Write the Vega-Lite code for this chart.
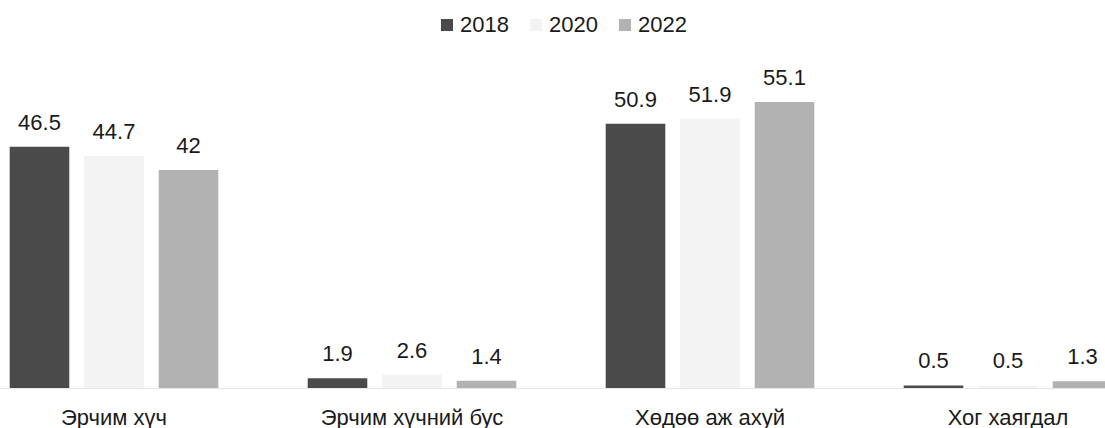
{
  "$schema": "https://vega.github.io/schema/vega-lite/v6.json",
  "width": 1192,
  "height": 328,
  "autosize": {"type": "none"},
  "padding": {"left": -35, "top": 60, "right": 0, "bottom": 40},
  "background": "white",
  "config": {
    "font": "Liberation Sans",
    "view": {"stroke": null}
  },
  "data": {
    "values": [
      {"sector": "Эрчим хүч", "year": "2018", "value": 46.5},
      {"sector": "Эрчим хүч", "year": "2020", "value": 44.7},
      {"sector": "Эрчим хүч", "year": "2022", "value": 42},
      {"sector": "Эрчим хүчний бус", "year": "2018", "value": 1.9},
      {"sector": "Эрчим хүчний бус", "year": "2020", "value": 2.6},
      {"sector": "Эрчим хүчний бус", "year": "2022", "value": 1.4},
      {"sector": "Хөдөө аж ахуй", "year": "2018", "value": 50.9},
      {"sector": "Хөдөө аж ахуй", "year": "2020", "value": 51.9},
      {"sector": "Хөдөө аж ахуй", "year": "2022", "value": 55.1},
      {"sector": "Хог хаягдал", "year": "2018", "value": 0.5},
      {"sector": "Хог хаягдал", "year": "2020", "value": 0.5},
      {"sector": "Хог хаягдал", "year": "2022", "value": 1.3}
    ]
  },
  "encoding": {
    "x": {
      "field": "sector", "type": "nominal", "sort": null,
      "scale": {"paddingInner": 0.3, "paddingOuter": 0.15},
      "axis": {
        "title": null, "labelAngle": 0, "ticks": false,
        "domain": true, "domainColor": "#e6e6e6",
        "labelFontSize": 22, "labelColor": "#1a1a1a", "labelPadding": 19,
        "labelLimit": 400
      }
    },
    "xOffset": {
      "field": "year", "type": "nominal",
      "scale": {"paddingInner": 0.2, "paddingOuter": 0}
    },
    "y": {
      "field": "value", "type": "quantitative",
      "scale": {"domain": [0, 63.2], "nice": false},
      "axis": null
    }
  },
  "layer": [
    {
      "mark": {"type": "bar"},
      "encoding": {
        "color": {
          "field": "year", "type": "nominal",
          "scale": {"domain": ["2018", "2020", "2022"], "range": ["#4a4a4a", "#f3f3f3", "#b2b2b2"]},
          "legend": {
            "title": null, "orient": "none", "direction": "horizontal",
            "legendX": 471, "legendY": -46,
            "symbolType": "square", "symbolSize": 144, "symbolStrokeWidth": 0,
            "labelFontSize": 22, "labelColor": "#1a1a1a", "columnPadding": 16,
            "labelOffset": 2
          }
        }
      }
    },
    {
      "mark": {"type": "text", "baseline": "bottom", "dy": -12, "fontSize": 22, "color": "#1a1a1a"},
      "encoding": {
        "text": {"field": "value", "type": "quantitative"}
      }
    }
  ]
}
